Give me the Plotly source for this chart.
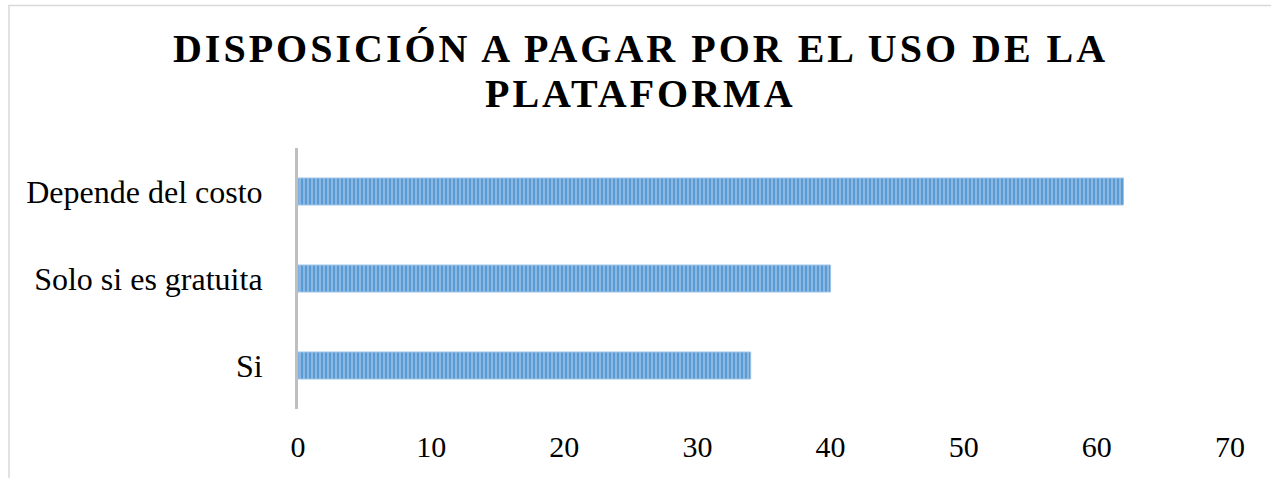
import plotly.graph_objects as go

categories = ["Si", "Solo si es gratuita", "Depende del costo"]
values = [34, 40, 62]
x_ticks = [0, 10, 20, 30, 40, 50, 60, 70]
title_line1 = "DISPOSICIÓN A PAGAR POR EL USO DE LA"
title_line2 = "PLATAFORMA"

W, H = 1271, 478
ML, MR, MT, MB = 298, 41, 148, 69
PW, PH = W - ML - MR, H - MT - MB

def px_to_paper_x(px):
    return (px - ML) / PW

def px_to_paper_y(py):
    return (H - MB - py) / PH

serif = "Liberation Serif, Times New Roman, serif"
title_font = dict(family=serif, size=40, color="#000000", weight="bold")

fig = go.Figure()
fig.add_trace(go.Bar(
    x=values,
    y=categories,
    orientation="h",
    width=0.31,
    marker=dict(
        color="#5B9BD5",
        line=dict(color="#9DC3E6", width=1),
        pattern=dict(shape="|", fgcolor="#C5DCF1", bgcolor="#5B9BD5",
                     size=4, solidity=0.45, fillmode="overlay"),
    ),
    hoverinfo="x+y",
))

fig.update_layout(
    width=W, height=H,
    margin=dict(l=ML, r=MR, t=MT, b=MB),
    paper_bgcolor="white",
    plot_bgcolor="white",
    showlegend=False,
    title=dict(
        text=title_line1,
        x=0.504, xref="container", xanchor="center",
        y=1 - 48 / H, yref="container", yanchor="middle",
        font=title_font,
    ),
    annotations=[
        dict(text=title_line2, xref="paper", yref="paper",
             x=px_to_paper_x(640), y=px_to_paper_y(93),
             xanchor="center", yanchor="middle", showarrow=False,
             font=title_font),
    ],
    xaxis=dict(
        range=[0, 70],
        tickvals=x_ticks,
        showgrid=False,
        zeroline=False,
        showline=False,
        ticks="",
        ticklabelstandoff=17,
        tickfont=dict(family=serif, size=30, color="#000000"),
        fixedrange=True,
    ),
    yaxis=dict(
        categoryorder="array",
        categoryarray=categories,
        showgrid=False,
        zeroline=False,
        showline=True,
        linecolor="#BFBFBF",
        linewidth=3,
        ticks="",
        ticklabelstandoff=26,
        tickfont=dict(family=serif, size=32, color="#000000"),
        fixedrange=True,
    ),
    shapes=[
        dict(type="rect", xref="paper", yref="paper",
             x0=px_to_paper_x(9), x1=px_to_paper_x(W + 10),
             y0=px_to_paper_y(H + 10), y1=px_to_paper_y(5.5),
             line=dict(color="#D9D9D9", width=1.5),
             fillcolor="rgba(0,0,0,0)", layer="below"),
    ],
)

post = """
document.body.style.margin = '0';
document.querySelectorAll('text.gtitle, g.annotation text').forEach(function(e){
  e.style.letterSpacing = '3px';
});
"""

fig.write_html("out.html", post_script=post, config={"displayModeBar": False})
